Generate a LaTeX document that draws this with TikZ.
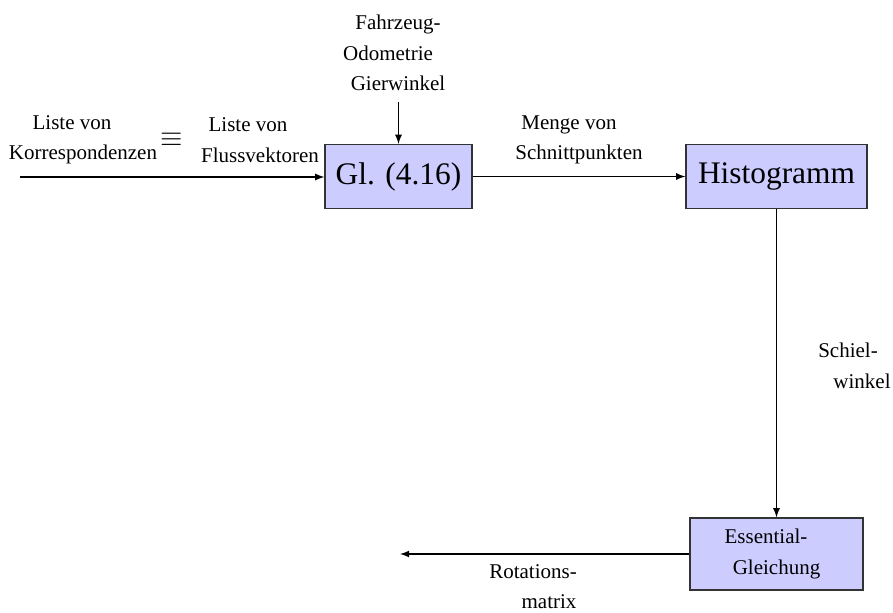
\documentclass[tikz,border=0pt]{standalone}
\usepackage{fontspec}
\setmainfont{Liberation Serif}

\begin{document}
\begin{tikzpicture}[x=0.5pt, y=-0.5pt, >=latex, line width=0.6pt,
    block/.style={draw=black!80, fill=blue!20, inner sep=0pt},
    big/.style={font=\fontsize{15.7}{18}\selectfont},
    lbl/.style={font=\fontsize{10.5}{15.2}\selectfont, align=center, inner sep=0pt}]
  \useasboundingbox (0,0) rectangle (893,613);

  \node[block, big, minimum width=73.5pt, minimum height=32pt] (gl) at (398.5,176.5) {Gl. (4.16)};
  \node[block, big, minimum width=90.5pt, minimum height=32pt] (hist) at (776.5,176.5) {Histogramm};
  \node[block, lbl, minimum width=86.5pt, minimum height=36pt] (ess) at (776.5,554) {Essential-\hspace*{10.5pt}\\Gleichung};

  \coordinate (in) at (20,177);
  \coordinate (odo) at (398.5,102);
  \coordinate (out) at (400,554);

  \draw[->] (in) -- (in -| gl.west);
  \draw[->] (odo) -- (gl.north);
  \draw[->] (gl) -- (hist);
  \draw[->] (hist.south) -- (ess.north);
  \draw[->] (ess.west) -- (out);

  \node[lbl] (korr) at (72,140) {Liste von\\\hspace*{11pt}Korrespondenzen};
  \node[font=\fontsize{15}{16}\selectfont, inner sep=0pt] (eq) at (172,140) {$\equiv$};
  \node[lbl] (fluss) at (248,140) {Liste von\\\hspace*{12pt}Flussvektoren};
  \node[lbl] (odolbl) at (388,53) {\hspace*{10pt}Fahrzeug-\\Odometrie\\\hspace*{10pt}Gierwinkel};
  \node[lbl] (menge) at (569,140) {Menge von\\\hspace*{10pt}Schnittpunkten};
  \node[lbl] (schiel) at (848,366) {Schiel-\\\hspace*{14pt}winkel};
  \node[lbl] (rot) at (533,586.5) {Rotations-\\\hspace*{16pt}matrix};
\end{tikzpicture}
\end{document}
